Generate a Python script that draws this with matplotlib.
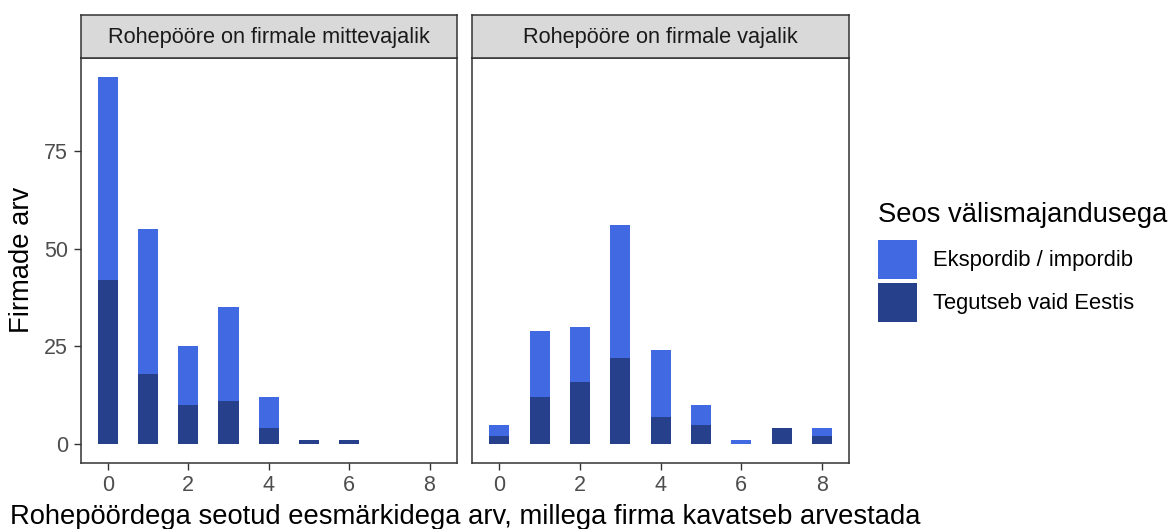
import matplotlib.pyplot as plt
import numpy as np

plt.rcParams['font.family'] = ['Liberation Sans', 'DejaVu Sans']

# number of green-transition goals the firm plans to account for
goals = np.arange(0, 9)

panels = ["Rohepööre on firmale mittevajalik", "Rohepööre on firmale vajalik"]
series_names = ["Ekspordib / impordib", "Tegutseb vaid Eestis"]
legend_title = "Seos välismajandusega"

# firm counts per panel
export_not_needed = [52, 37, 15, 24, 8, 0, 0, 0, 0]
local_not_needed = [42, 18, 10, 11, 4, 1, 1, 0, 0]
export_needed = [3, 17, 14, 34, 17, 5, 1, 0, 2]
local_needed = [2, 12, 16, 22, 7, 5, 0, 4, 2]

y_ticks = [0, 25, 50, 75]
x_ticks = [0, 2, 4, 6, 8]

col_export = "#4169E1"
col_local = "#27408B"
edge = "#333333"

W, H = 1168, 529
fig = plt.figure(figsize=(W / 100, H / 100), dpi=100)


def box(l, t, r, b):
    return [l / W, 1 - b / H, (r - l) / W, (b - t) / H]


panel_data = [(export_not_needed, local_not_needed), (export_needed, local_needed)]
lefts = [(80.7, 456.7), (472, 849.3)]

handles = None
for i, (title, (exp, loc)) in enumerate(zip(panels, panel_data)):
    l, r = lefts[i]
    ax = fig.add_axes(box(l, 58.3, r, 462.5))
    b1 = ax.bar(goals, loc, width=0.5, color=col_local, linewidth=0)
    b2 = ax.bar(goals, exp, width=0.5, bottom=loc, color=col_export, linewidth=0)
    if handles is None:
        handles = [b2, b1]
    ax.set_xlim(-0.675, 8.675)
    ax.set_ylim(-4.7, 98.7)
    ax.set_xticks(x_ticks)
    ax.set_xticklabels([str(v) for v in x_ticks])
    if i == 0:
        ax.set_yticks(y_ticks)
        ax.set_yticklabels([str(v) for v in y_ticks])
    else:
        ax.set_yticks([])
    ax.tick_params(axis="both", length=5, width=1.0, color=edge,
                   labelsize=15.5, labelcolor="#4D4D4D", pad=4)
    for s in ax.spines.values():
        s.set_color(edge)
        s.set_linewidth(1.1)

    # facet strip
    st = fig.add_axes(box(l, 14.7, r, 58.3))
    st.set_facecolor("#D9D9D9")
    st.set_xticks([])
    st.set_yticks([])
    for s in st.spines.values():
        s.set_color(edge)
        s.set_linewidth(1.1)
    st.text(0.5, 0.48, title, ha="center", va="center", fontsize=15.7,
            color="#1A1A1A", transform=st.transAxes)

fig.text(465 / W, 1 - 524 / H,
         "Rohepöördega seotud eesmärkidega arv, millega firma kavatseb arvestada",
         ha="center", va="baseline", fontsize=19.75)
fig.text(22 / W, 1 - 260 / H, "Firmade arv", rotation=90,
         ha="center", va="center", fontsize=19.75)

# legend
fig.text(878 / W, 1 - 222 / H, legend_title, ha="left", va="baseline",
         fontsize=19.75)
fig.legend(handles, series_names, loc="upper left",
           bbox_to_anchor=(877.7 / W, 1 - 240 / H), frameon=False,
           fontsize=15.8, handlelength=1.78, handleheight=2.36,
           labelspacing=0.165, handletextpad=0.76, borderpad=0,
           borderaxespad=0)

fig.savefig("out.png", dpi=100)
